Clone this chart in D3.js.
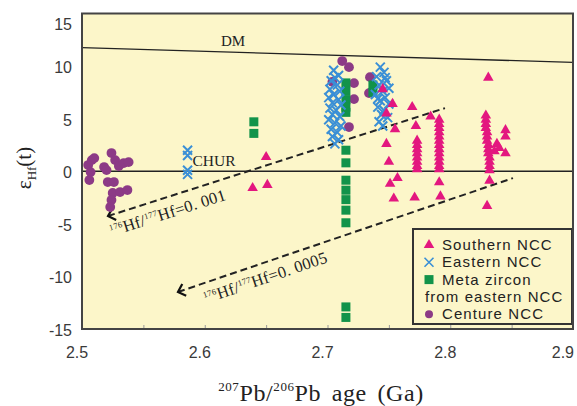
<!DOCTYPE html>
<html>
<head>
<meta charset="utf-8">
<script src="https://cdn.jsdelivr.net/npm/d3@7/dist/d3.min.js"></script>
<style>
  body { margin: 0; background: #fff; }
  svg { display: block; }
</style>
</head>
<body>
<div id="chart"></div>
<script>
// ---- data (age in Ga, εHf(t)) ----
const xTicks = [2.5, 2.6, 2.7, 2.8, 2.9];
const xMinorTicks = [2.55, 2.6, 2.65, 2.7, 2.75, 2.8, 2.85];
const yTicks = [-15, -10, -5, 0, 5, 10, 15];

const southernNCC = [
  [2.650, 1.45], [2.639, -1.5], [2.651, -1.2],
  [2.745, 7.9], [2.753, 6.5], [2.748, 5.6], [2.755, 4.1], [2.748, 2.7], [2.750, 1.0],
  [2.757, -0.55], [2.751, -1.1], [2.754, -2.5],
  [2.769, 6.2], [2.772, 4.4], [2.784, 5.3], [2.831, 9.0],
  [2.773, 3.0], [2.773, 2.6], [2.773, 2.2], [2.773, 1.8], [2.773, 1.4], [2.773, 1.0],
  [2.773, 0.6], [2.773, 0.3], [2.771, -2.4],
  [2.791, 5.0], [2.791, 4.6], [2.791, 4.2], [2.791, 3.8], [2.791, 3.4], [2.791, 3.0],
  [2.791, 2.6], [2.791, 2.2], [2.791, 1.8], [2.791, 1.4], [2.791, 1.0], [2.791, 0.6],
  [2.791, 0.3], [2.791, -0.95], [2.792, -2.3],
  [2.829, 5.4], [2.829, 5.0], [2.829, 4.6], [2.829, 4.2], [2.830, 3.8], [2.830, 3.4],
  [2.830, 3.0], [2.831, 2.6], [2.831, 2.2], [2.831, 1.8], [2.832, 1.4], [2.832, 1.0],
  [2.832, 0.6], [2.832, 0.2], [2.832, -0.8], [2.830, -3.2],
  [2.838, 2.7], [2.840, 2.3], [2.845, 4.0], [2.845, 3.4], [2.845, 1.8], [2.836, 2.0]
];

const easternNCC = [
  [2.586, 2.0], [2.586, 1.5], [2.586, 0.1], [2.586, -0.3],
  [2.705, 9.6], [2.709, 9.1], [2.703, 8.6], [2.708, 8.2], [2.702, 7.8], [2.710, 7.6],
  [2.705, 7.3], [2.701, 7.0], [2.709, 6.8], [2.704, 6.5], [2.711, 6.3], [2.702, 6.0],
  [2.707, 5.8], [2.704, 5.4], [2.710, 5.2], [2.701, 4.9], [2.706, 4.6], [2.711, 4.3],
  [2.703, 4.0], [2.708, 3.7], [2.704, 3.3], [2.709, 3.0], [2.706, 2.6], [2.706, 8.9],
  [2.743, 9.9], [2.746, 9.4], [2.740, 9.0], [2.748, 8.6], [2.742, 8.2], [2.750, 7.9],
  [2.745, 7.6], [2.739, 7.3], [2.747, 7.0], [2.743, 6.7], [2.750, 6.4], [2.741, 6.1],
  [2.746, 5.8], [2.744, 5.4], [2.749, 5.1], [2.742, 4.7], [2.745, 4.3], [2.747, 8.9],
  [2.741, 6.9]
];

const metaZircon = [
  [2.640, 4.7], [2.640, 3.6],
  [2.715, 8.4], [2.715, 7.6], [2.715, 6.8], [2.715, 6.1], [2.715, 5.6],
  [2.737, 8.2], [2.737, 7.5],
  [2.715, 2.0], [2.715, 0.8], [2.715, -0.85], [2.715, -1.8], [2.715, -2.7],
  [2.715, -3.7], [2.715, -4.9], [2.715, -12.9], [2.715, -13.9]
];

const centureNCC = [
  [2.505, 0.59], [2.508, 1.06], [2.510, 1.25], [2.507, -0.08], [2.506, -0.84],
  [2.518, 0.4], [2.520, 0.11], [2.524, 1.73], [2.527, 1.06], [2.530, 0.49],
  [2.534, 0.78], [2.538, 0.87], [2.521, -1.03], [2.526, -1.03], [2.525, -2.07],
  [2.531, -1.98], [2.537, -1.79], [2.524, -2.74], [2.523, -3.4],
  [2.712, 10.48], [2.7175, 9.9], [2.7216, 8.38], [2.7216, 6.86], [2.7175, 4.2],
  [2.7346, 8.95], [2.7338, 7.43], [2.704, 8.5]
];

// reference lines
const dmLine = [[2.5, 11.75], [2.9, 10.35]];
const churLine = [[2.5, 0], [2.9, 0]];
const evoLine1 = [[2.5212, -4.26], [2.7957, 6.0]];   // 176Hf/177Hf = 0.001
const evoLine2 = [[2.5782, -11.48], [2.8511, -0.65]]; // 176Hf/177Hf = 0.0005

const legendItems = [
  { type: 'triangle', label: ['Southern NCC'] },
  { type: 'cross', label: ['Eastern NCC'] },
  { type: 'square', label: ['Meta zircon', 'from eastern NCC'] },
  { type: 'circle', label: ['Centure NCC'] }
];

const COLORS = {
  triangle: '#e3177f',
  cross: '#3a8fd6',
  square: '#12934a',
  circle: '#8c3a86'
};

// ---- layout ----
const width = 577, height = 406;
const plot = { left: 82, right: 573, top: 13.5, bottom: 329 };
const serif = '"Liberation Serif", "Times New Roman", serif';
const sans = '"Liberation Sans", Arial, sans-serif';

const svg = d3.select('#chart').append('svg')
  .attr('width', width)
  .attr('height', height);

const x = d3.scaleLinear().domain([2.5, 2.9]).range([plot.left, plot.right]);
const y = d3.scaleLinear().domain([-15, 15]).range([plot.bottom, plot.top]);

// plot background
svg.append('rect')
  .attr('x', plot.left).attr('y', plot.top)
  .attr('width', plot.right - plot.left).attr('height', plot.bottom - plot.top)
  .attr('fill', '#fcf6c9');

// minor ticks inside bottom
const xAxisG = svg.append('g')
  .attr('transform', `translate(0,${plot.bottom})`)
  .call(d3.axisBottom(x).tickValues(xMinorTicks).tickSize(-4).tickFormat(''));
xAxisG.select('.domain').remove();
xAxisG.selectAll('line').attr('stroke', '#999');

// x tick labels
svg.append('g').selectAll('text')
  .data(xTicks)
  .join('text')
  .attr('x', (d, i) => i === xTicks.length - 1 ? x(d) + 1 : x(d) - 5)
  .attr('y', 358)
  .attr('text-anchor', (d, i) => i === xTicks.length - 1 ? 'end' : 'middle')
  .attr('font-family', sans)
  .attr('font-size', 16)
  .attr('fill', '#3a3a3a')
  .text(d => d3.format('.1f')(d));

// y axis labels
const yAxisG = svg.append('g')
  .attr('transform', `translate(${plot.left},0)`)
  .call(d3.axisLeft(y).tickValues(yTicks).tickSize(0).tickPadding(10));
yAxisG.select('.domain').remove();
yAxisG.selectAll('text')
  .attr('font-family', sans)
  .attr('font-size', 16)
  .attr('fill', '#3a3a3a')
  .attr('dy', d => d === 15 ? '1.0em' : '0.4em')
  .text(d => d);

// reference lines
const line = d3.line().x(d => x(d[0])).y(d => y(d[1]));
svg.append('path').attr('d', line(dmLine))
  .attr('stroke', '#222').attr('stroke-width', 1.3).attr('fill', 'none');
svg.append('path').attr('d', line(churLine))
  .attr('stroke', '#222').attr('stroke-width', 1.3).attr('fill', 'none');

function evolutionLine(pts, label, labelPos) {
  const [p0, p1] = pts;
  svg.append('path').attr('d', line(pts))
    .attr('stroke', '#222').attr('stroke-width', 2)
    .attr('stroke-dasharray', '7,4').attr('fill', 'none');
  // open arrowhead at the left end
  const ang = Math.atan2(y(p1[1]) - y(p0[1]), x(p1[0]) - x(p0[0]));
  const len = 9, spread = 0.75;
  const tx = x(p0[0]), ty = y(p0[1]);
  const a1 = [tx + len * Math.cos(ang + spread), ty + len * Math.sin(ang + spread)];
  const a2 = [tx + len * Math.cos(ang - spread), ty + len * Math.sin(ang - spread)];
  svg.append('path')
    .attr('d', `M${a1[0]},${a1[1]}L${tx},${ty}L${a2[0]},${a2[1]}`)
    .attr('stroke', '#111').attr('stroke-width', 2.2).attr('fill', 'none');

  const deg = ang * 180 / Math.PI;
  const t = svg.append('text')
    .attr('transform', `translate(${x(labelPos[0])},${y(labelPos[1])}) rotate(${deg})`)
    .attr('font-family', serif)
    .attr('font-size', 16.5)
    .attr('letter-spacing', 0.3)
    .attr('fill', '#222');
  t.append('tspan').attr('font-size', 8.5).attr('dy', -6).text('176');
  t.append('tspan').attr('dy', 6).text('Hf/');
  t.append('tspan').attr('font-size', 8.5).attr('dy', -6).text('177');
  t.append('tspan').attr('dy', 6).text('Hf=' + label);
}
evolutionLine(evoLine1, '0. 001', [2.5244, -6.2]);
evolutionLine(evoLine2, '0. 0005', [2.601, -12.6]);

svg.append('text')
  .attr('x', x(2.623)).attr('y', y(11.9))
  .attr('text-anchor', 'middle')
  .attr('font-family', serif).attr('font-size', 15).attr('fill', '#222')
  .text('DM');
svg.append('text')
  .attr('x', x(2.590)).attr('y', y(0.5))
  .attr('font-family', serif).attr('font-size', 15.5).attr('fill', '#222')
  .text('CHUR');

// ---- data marks ----
const triangle = d3.symbol().type(d3.symbolTriangle).size(48);

svg.append('g').selectAll('circle')
  .data(centureNCC)
  .join('circle')
  .attr('cx', d => x(d[0])).attr('cy', d => y(d[1]))
  .attr('r', 4.9)
  .attr('fill', COLORS.circle);

svg.append('g').selectAll('rect')
  .data(metaZircon)
  .join('rect')
  .attr('x', d => x(d[0]) - 4.5).attr('y', d => y(d[1]) - 4.5)
  .attr('width', 9).attr('height', 9)
  .attr('fill', COLORS.square);

svg.append('g').selectAll('path')
  .data(easternNCC)
  .join('path')
  .attr('d', 'M-4.5,-4.5L4.5,4.5M-4.5,4.5L4.5,-4.5')
  .attr('transform', d => `translate(${x(d[0])},${y(d[1])})`)
  .attr('stroke', COLORS.cross)
  .attr('stroke-width', 2)
  .attr('fill', 'none');

svg.append('g').selectAll('path')
  .data(southernNCC)
  .join('path')
  .attr('d', triangle)
  .attr('transform', d => `translate(${x(d[0])},${y(d[1]) + 1})`)
  .attr('fill', COLORS.triangle);

// ---- legend ----
const legend = svg.append('g');
legend.append('rect')
  .attr('x', 413).attr('y', 229).attr('width', 159).attr('height', 95)
  .attr('fill', '#fcf6c9').attr('stroke', '#333').attr('stroke-width', 2);

let rowY = 250;
legendItems.forEach(item => {
  const cy = rowY - 5;
  const cx = 429;
  if (item.type === 'triangle') {
    legend.append('path').attr('d', triangle)
      .attr('transform', `translate(${cx},${cy})`).attr('fill', COLORS.triangle);
  } else if (item.type === 'cross') {
    legend.append('path').attr('d', 'M-4.5,-4.5L4.5,4.5M-4.5,4.5L4.5,-4.5')
      .attr('transform', `translate(${cx},${cy})`)
      .attr('stroke', COLORS.cross).attr('stroke-width', 1.6);
  } else if (item.type === 'square') {
    legend.append('rect').attr('x', cx - 4.5).attr('y', cy - 4.5)
      .attr('width', 9).attr('height', 9).attr('fill', COLORS.square);
  } else {
    legend.append('circle').attr('cx', cx).attr('cy', cy).attr('r', 4)
      .attr('fill', COLORS.circle);
  }
  item.label.forEach((txt, i) => {
    legend.append('text')
      .attr('x', i === 0 ? 442 : 425)
      .attr('y', rowY + i * 17.5)
      .attr('font-family', sans)
      .attr('font-size', 15)
      .attr('letter-spacing', 1.1)
      .attr('fill', '#222')
      .text(txt);
  });
  rowY += 17.3 * item.label.length;
});

// plot frame
svg.append('rect')
  .attr('x', plot.left).attr('y', plot.top)
  .attr('width', plot.right - plot.left).attr('height', plot.bottom - plot.top)
  .attr('fill', 'none').attr('stroke', '#444').attr('stroke-width', 2);

// ---- axis titles ----
const yTitle = svg.append('text')
  .attr('transform', 'translate(31,168) rotate(-90)')
  .attr('text-anchor', 'middle')
  .attr('font-family', serif)
  .attr('font-size', 21)
  .attr('fill', '#222');
yTitle.append('tspan').text('ε');
yTitle.append('tspan').attr('font-size', 13).attr('dy', 5).text('Hf');
yTitle.append('tspan').attr('dy', -5).text('(t)');

const xTitle = svg.append('text')
  .attr('x', 321).attr('y', 401)
  .attr('text-anchor', 'middle')
  .attr('font-family', serif)
  .attr('font-size', 24)
  .attr('word-spacing', 4)
  .attr('letter-spacing', 0.6)
  .attr('fill', '#222');
xTitle.append('tspan').attr('font-size', 13).attr('dy', -10).text('207');
xTitle.append('tspan').attr('dy', 10).text('Pb/');
xTitle.append('tspan').attr('font-size', 13).attr('dy', -10).text('206');
xTitle.append('tspan').attr('dy', 10).text('Pb age (Ga)');
</script>
</body>
</html>
